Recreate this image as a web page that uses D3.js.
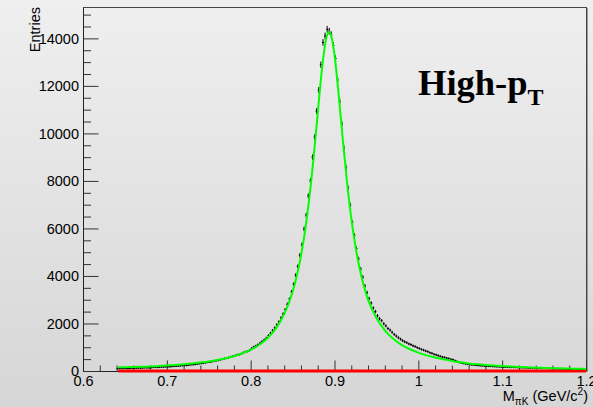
<!DOCTYPE html>
<html>
<head>
  <meta charset="utf-8">
  <script src="https://d3js.org/d3.v7.min.js"></script>
  <style>
    html, body { margin: 0; padding: 0; }
    svg { display: block; font-family: "Liberation Sans", Arial, Helvetica, sans-serif; }
  </style>
</head>
<body>
<div id="chart"></div>
<script>

// histogram: 224 bins of 0.0025 GeV/c^2 starting at 0.64
const binStart = 0.64;
const binWidth = 0.0025;
const binValues = [
  98, 104, 103, 110, 108, 102, 111, 118, 116, 121,
  125, 119, 128, 136, 135, 131, 141, 150, 152, 148,
  158, 166, 168, 174, 179, 177, 189, 199, 201, 208,
  216, 227, 236, 233, 249, 262, 268, 278, 292, 309,
  318, 330, 347, 366, 374, 392, 418, 433, 446, 470,
  498, 524, 540, 566, 592, 620, 643, 677, 691, 722,
  768, 806, 832, 869, 957, 1011, 1050, 1107, 1175, 1244,
  1312, 1383, 1487, 1589, 1706, 1812, 1943, 2070, 2236, 2397,
  2579, 2808, 3026, 3328, 3650, 4030, 4400, 4870, 5320, 5980,
  6560, 7370, 8010, 9000, 9840, 10940, 11820, 12890, 13830, 14100,
  14380, 14300, 14150, 13700, 13150, 12250, 11350, 10400, 9380, 8560,
  7700, 6980, 6250, 5710, 5150, 4720, 4290, 3950, 3580, 3300,
  3050, 2860, 2650, 2500, 2320, 2200, 2120, 1990, 1900, 1790,
  1720, 1630, 1540, 1470, 1400, 1340, 1280, 1230, 1190, 1140,
  1110, 1060, 1030, 985, 950, 910, 880, 845, 815, 770,
  745, 705, 680, 650, 620, 590, 570, 548, 528, 495,
  478, 440, 405, 362, 340, 318, 300, 284, 270, 258,
  250, 240, 232, 221, 216, 209, 204, 197, 195, 188,
  184, 178, 176, 172, 167, 161, 159, 155, 152, 148,
  147, 143, 140, 137, 135, 131, 128, 125, 124, 120,
  119, 116, 114, 111, 110, 106, 105, 102, 101, 99,
  98, 95, 94, 92, 91, 88, 87, 85, 84, 82,
  81, 79, 79, 77
];

// green fit curve
const fitMass = [
  0.642, 0.65, 0.66, 0.67, 0.68, 0.69, 0.70, 0.71, 0.72, 0.73, 0.74, 0.75,
  0.76, 0.77, 0.78, 0.79, 0.80, 0.81, 0.82, 0.83, 0.84, 0.845, 0.85, 0.855,
  0.86, 0.865, 0.87, 0.875, 0.88, 0.885, 0.89, 0.8935, 0.895, 0.90, 0.905,
  0.91, 0.915, 0.92, 0.925, 0.93, 0.935, 0.94, 0.95, 0.96, 0.97, 0.98, 0.99,
  1.00, 1.01, 1.02, 1.03, 1.04, 1.05, 1.06, 1.07, 1.08, 1.09, 1.10, 1.11,
  1.12, 1.13, 1.14, 1.15, 1.16, 1.17, 1.18, 1.19, 1.20
];
const fitValues = [
  153, 158, 167, 179, 192, 208, 227, 252, 282, 316, 358, 404,
  461, 535, 624, 743, 890, 1095, 1380, 1785, 2392, 2809, 3333, 3997,
  4844, 5926, 7292, 8960, 10851, 12693, 13988, 14280, 14230, 13309, 11618,
  9700, 7924, 6436, 5246, 4311, 3579, 3004, 2227, 1712, 1357, 1103, 915,
  773, 657, 566, 492, 422, 364, 317, 280, 251, 227, 206, 186,
  170, 154, 142, 130, 121, 111, 102, 95, 87
];

// red background component (flat)
const bkgMass = [0.642, 1.2];
const bkgValues = [0, 0];

const xTicks = [0.6, 0.7, 0.8, 0.9, 1.0, 1.1, 1.2];
const xTickLabels = ["0.6", "0.7", "0.8", "0.9", "1", "1.1", "1.2"];
const yTicks = [0, 2000, 4000, 6000, 8000, 10000, 12000, 14000];

const W = 593, H = 407;
const frame = { left: 83, right: 586, top: 7, bottom: 371 };

const svg = d3.select("#chart").append("svg")
  .attr("width", W)
  .attr("height", H);

const grad = svg.append("defs").append("linearGradient")
  .attr("id", "bg").attr("x1", 0).attr("y1", 0).attr("x2", 0).attr("y2", 1);
grad.append("stop").attr("offset", "0%").attr("stop-color", "#efefef");
grad.append("stop").attr("offset", "100%").attr("stop-color", "#d6d6d6");

svg.append("rect").attr("width", W).attr("height", H).attr("fill", "url(#bg)");

const x = d3.scaleLinear().domain([0.6, 1.2]).range([frame.left, frame.right]);
const y = d3.scaleLinear().domain([0, 15320]).range([frame.bottom, frame.top]);

// frame
svg.append("line")
  .attr("x1", frame.left).attr("x2", frame.right + 1)
  .attr("y1", frame.top + 0.5).attr("y2", frame.top + 0.5)
  .attr("stroke", "#444");
svg.append("line")
  .attr("x1", frame.right + 0.5).attr("x2", frame.right + 0.5)
  .attr("y1", frame.top).attr("y2", frame.bottom)
  .attr("stroke", "#444");
svg.append("line")
  .attr("x1", frame.right + 1.5).attr("x2", frame.right + 1.5)
  .attr("y1", frame.top + 1).attr("y2", frame.bottom + 1)
  .attr("stroke", "#999");

// axes, ROOT style ticks pointing inside
const xMinor = d3.range(60, 121, 2).map(d => d / 100).filter(d => !xTicks.some(t => Math.abs(t - d) < 1e-9));
const yMinor = d3.range(0, 15001, 500).filter(d => d % 2000 !== 0);

const axisFont = "14.5px";

svg.append("g")
  .attr("transform", `translate(0,${frame.bottom})`)
  .call(d3.axisBottom(x).tickValues(xMinor).tickSize(-5.5).tickFormat(""))
  .call(g => g.select(".domain").remove())
  .call(g => g.selectAll("line").attr("stroke", "#333"));

svg.append("g")
  .attr("transform", `translate(0,${frame.bottom})`)
  .call(d3.axisBottom(x).tickValues(xTicks).tickSizeInner(-10.5).tickSizeOuter(0)
    .tickPadding(5).tickFormat((d, i) => xTickLabels[i]))
  .call(g => g.select(".domain").attr("stroke", "#222"))
  .call(g => g.selectAll("line").attr("stroke", "#333"))
  .call(g => g.selectAll("text").attr("font-size", axisFont).attr("fill", "#000")
    .attr("font-family", "'Liberation Sans', Arial, sans-serif"));

svg.append("g")
  .attr("transform", `translate(${frame.left},0)`)
  .call(d3.axisLeft(y).tickValues(yMinor).tickSize(-8).tickFormat(""))
  .call(g => g.select(".domain").remove())
  .call(g => g.selectAll("line").attr("stroke", "#333"));

svg.append("g")
  .attr("transform", `translate(${frame.left},0)`)
  .call(d3.axisLeft(y).tickValues(yTicks).tickSizeInner(-15.5).tickSizeOuter(0)
    .tickPadding(4).tickFormat(d3.format("d")))
  .call(g => g.select(".domain").attr("stroke", "#222"))
  .call(g => g.selectAll("line").attr("stroke", "#333"))
  .call(g => g.selectAll("text").attr("font-size", axisFont).attr("fill", "#000")
    .attr("font-family", "'Liberation Sans', Arial, sans-serif"));

// red background line
svg.append("path")
  .datum(bkgMass.map((m, i) => [m, bkgValues[i]]))
  .attr("fill", "none")
  .attr("stroke", "#ff0000")
  .attr("stroke-width", 3)
  .attr("d", d3.line().x(d => x(d[0])).y(d => y(d[1])));

// data points with error bars
const bins = binValues.map((v, i) => ({
  lo: binStart + i * binWidth,
  hi: binStart + (i + 1) * binWidth,
  c: binStart + (i + 0.5) * binWidth,
  v: v,
  e: Math.sqrt(v)
}));

const pts = svg.append("g").attr("stroke", "#000").attr("stroke-width", 1);
pts.selectAll(".hbar").data(bins).enter().append("line")
  .attr("class", "hbar")
  .attr("x1", d => x(d.lo)).attr("x2", d => x(d.hi))
  .attr("y1", d => y(d.v)).attr("y2", d => y(d.v));
pts.selectAll(".vbar").data(bins).enter().append("line")
  .attr("class", "vbar")
  .attr("x1", d => x(d.c)).attr("x2", d => x(d.c))
  .attr("y1", d => y(d.v - d.e) + 0.5).attr("y2", d => y(d.v + d.e) - 0.5);

// green fit
svg.append("path")
  .datum(fitMass.map((m, i) => [m, fitValues[i]]))
  .attr("fill", "none")
  .attr("stroke", "#00ff00")
  .attr("stroke-width", 2)
  .attr("d", d3.line().curve(d3.curveMonotoneX).x(d => x(d[0])).y(d => y(d[1])));

// axis titles
svg.append("text")
  .attr("transform", `translate(39.5,${frame.top}) rotate(-90)`)
  .attr("text-anchor", "end")
  .attr("font-size", axisFont)
  .text("Entries");

const xt = svg.append("text")
  .attr("x", 588).attr("y", 401)
  .attr("text-anchor", "end")
  .attr("font-size", axisFont);
xt.append("tspan").text("M");
xt.append("tspan").attr("font-size", "10px").attr("dy", 4).text("πK");
xt.append("tspan").attr("dy", -4).text(" (GeV/c");
xt.append("tspan").attr("font-size", "10px").attr("dy", -6).text("2");
xt.append("tspan").attr("dy", 6).text(")");

// label
const lab = svg.append("text")
  .attr("x", 418).attr("y", 95)
  .attr("font-family", "'Liberation Serif', 'Times New Roman', serif")
  .attr("font-weight", "bold")
  .attr("font-size", "36.5px")
  .text("High-p");
lab.append("tspan").attr("font-size", "24px").attr("dy", 10).text("T");

</script>
</body>
</html>
